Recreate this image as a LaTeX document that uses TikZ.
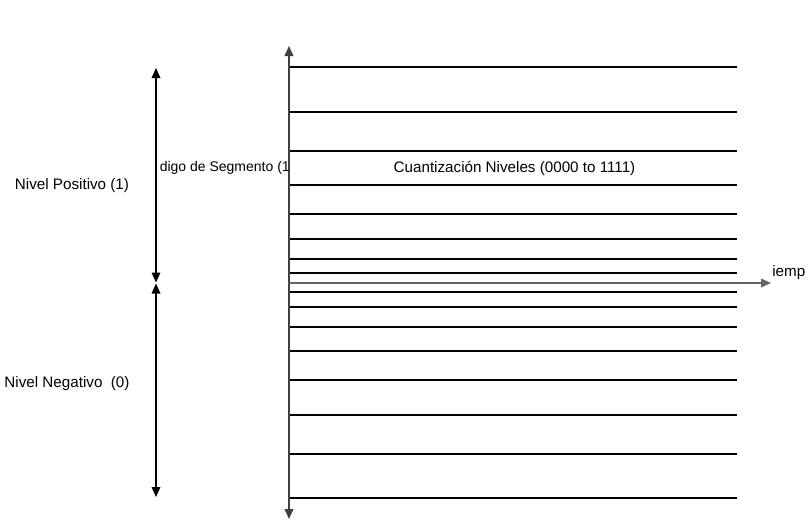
\documentclass[tikz,border=0pt]{standalone}
\usepackage{fontspec}
\setmainfont{Liberation Sans}
\usetikzlibrary{arrows.meta}
\begin{document}
\begin{tikzpicture}[x=0.75pt,y=-0.75pt,
  tri/.style={-{Triangle[length=7.5pt,width=6.5pt]}},
  dbl/.style={{Triangle[length=7.5pt,width=6.5pt]}-{Triangle[length=7.5pt,width=6.5pt]}},
  thinlvl/.style={line width=0.9pt,black},
  thicklvl/.style={line width=1.7pt,black},
  lbl/.style={inner sep=0pt,font=\fontsize{11.4pt}{13pt}\selectfont},
  slbl/.style={inner sep=0pt,font=\fontsize{10.5pt}{12pt}\selectfont}]
\useasboundingbox (0,0) rectangle (807,521);
% level lines
\foreach \y in {185,214,239,259,273,307,327,351,415,454,498}
  \draw[thinlvl] (289,\y) -- (737,\y);
\foreach \y in {67,112,151,292,380}
  \draw[thicklvl] (289,\y) -- (737,\y);
% axes
\coordinate (vtop) at (289,46);
\coordinate (vbot) at (289,519);
\coordinate (hstart) at (289,283);
\coordinate (hend) at (771,283);
\draw[dbl,line width=1.2pt,black!75] (vbot) -- (vtop);
\draw[tri,line width=1.2pt,black!60] (hstart) -- (hend);
% left range arrows
\coordinate (pt) at (156,68);
\coordinate (pb) at (156,282.5);
\coordinate (nt) at (156,283.5);
\coordinate (nb) at (156,497);
\draw[dbl,line width=0.9pt] (pb) -- (pt);
\draw[dbl,line width=0.9pt] (nb) -- (nt);
% labels
\node[lbl] (pos) at (72,186) {Nivel Positivo (1)};
\node[lbl] (neg) at (67,384) {Nivel Negativo\ \ (0)};
\node[lbl] (cuant) at (514.5,168) {Cuantización Niveles (0000 to 1111)};
\node[slbl,anchor=east] (seg) at (290,168) {digo de Segmento (1};
\node[lbl,anchor=west] (tiempo) at (772,273) {iemp};
\end{tikzpicture}
\end{document}
